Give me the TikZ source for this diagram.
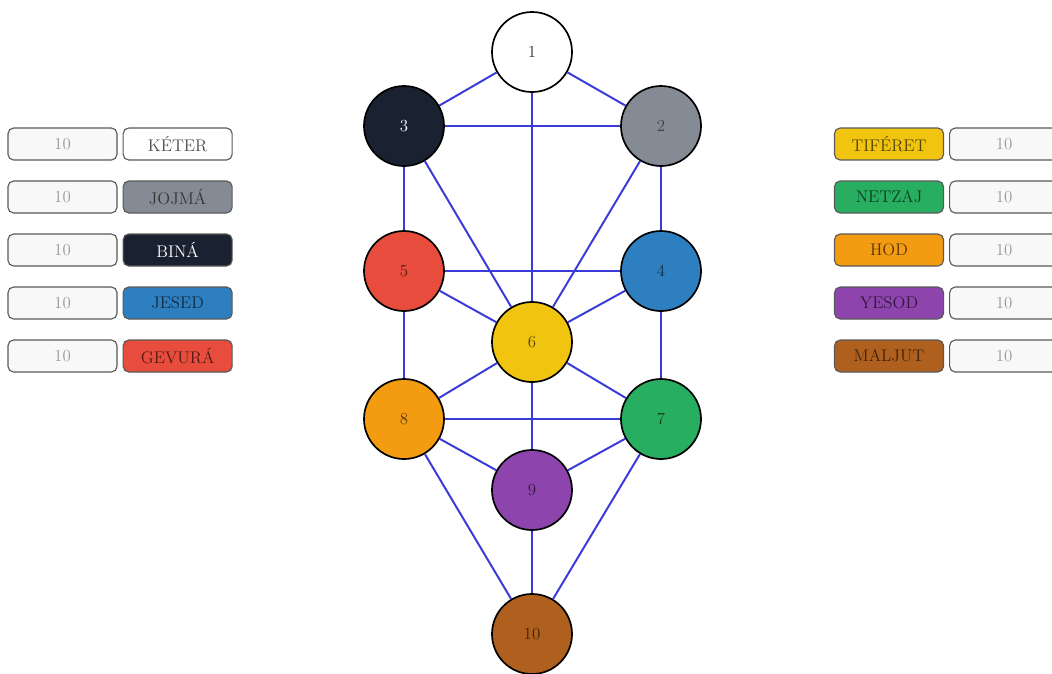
\documentclass[tikz,border=0pt]{standalone}
\usepackage{xcolor}
\usepackage{tikz}
\usetikzlibrary{positioning}

\definecolor{keter}{HTML}{FFFFFF}
\definecolor{jojma}{HTML}{858B95}
\definecolor{bina}{HTML}{1A2130}
\definecolor{jesed}{HTML}{2E7FC0}
\definecolor{gevura}{HTML}{E74C3C}
\definecolor{tiferet}{HTML}{F1C40F}
\definecolor{netzaj}{HTML}{27AE60}
\definecolor{hod}{HTML}{F39C12}
\definecolor{yesod}{HTML}{8E44AD}
\definecolor{maljut}{HTML}{B0601E}
\definecolor{path}{HTML}{3A3AD8}
\definecolor{valfill}{HTML}{F8F8F8}

\begin{document}
\begin{tikzpicture}[
    x=0.025cm, y=-0.025cm,
    sef/.style={draw=black, line width=1.2pt, circle, minimum size=2cm, inner sep=0pt, font=\large},
    val/.style={draw=black!65, line width=0.8pt, rounded corners=4pt, fill=valfill, minimum width=2.725cm, minimum height=0.8cm, inner sep=0pt, font=\large, text=black!40},
    lab/.style={draw=black!65, line width=0.8pt, rounded corners=4pt, minimum width=2.725cm, minimum height=0.8cm, inner sep=0pt, font=\large},
    conn/.style={draw=path, line width=1.4pt}]
  \useasboundingbox (0,0) rectangle (1052,673);
  % sefirot
  \node[sef, fill=keter, text=black!80] (s1) at (532,52) {1};
  \node[sef, fill=jojma, text=black!75] (s2) at (661,126) {2};
  \node[sef, fill=bina, text=white] (s3) at (404,126) {3};
  \node[sef, fill=jesed, text=jesed!35!black] (s4) at (661,271) {4};
  \node[sef, fill=gevura, text=gevura!35!black] (s5) at (404,271) {5};
  \node[sef, fill=tiferet, text=tiferet!35!black] (s6) at (532,342) {6};
  \node[sef, fill=netzaj, text=netzaj!35!black] (s7) at (661,419) {7};
  \node[sef, fill=hod, text=hod!35!black] (s8) at (404,419) {8};
  \node[sef, fill=yesod, text=yesod!35!black] (s9) at (532,490) {9};
  \node[sef, fill=maljut, text=maljut!35!black] (s10) at (532,634) {10};
  % paths
  \draw[conn] (s1) -- (s3);
  \draw[conn] (s1) -- (s2);
  \draw[conn] (s1) -- (s6);
  \draw[conn] (s3) -- (s2);
  \draw[conn] (s3) -- (s5);
  \draw[conn] (s3) -- (s6);
  \draw[conn] (s2) -- (s6);
  \draw[conn] (s2) -- (s4);
  \draw[conn] (s5) -- (s4);
  \draw[conn] (s5) -- (s6);
  \draw[conn] (s4) -- (s6);
  \draw[conn] (s5) -- (s8);
  \draw[conn] (s4) -- (s7);
  \draw[conn] (s6) -- (s8);
  \draw[conn] (s6) -- (s7);
  \draw[conn] (s6) -- (s9);
  \draw[conn] (s8) -- (s7);
  \draw[conn] (s8) -- (s9);
  \draw[conn] (s7) -- (s9);
  \draw[conn] (s8) -- (s10);
  \draw[conn] (s9) -- (s10);
  \draw[conn] (s7) -- (s10);
  % left legend
  \node[val] (v1) at (62.5,144) {10};
  \node[lab, fill=keter, text=black!70, right=0.125cm of v1] (l1) {KÉTER};
  \node[val] (v2) at (62.5,197) {10};
  \node[lab, fill=jojma, text=black!80, right=0.125cm of v2] (l2) {JOJMÁ};
  \node[val] (v3) at (62.5,250) {10};
  \node[lab, fill=bina, text=white, right=0.125cm of v3] (l3) {BINÁ};
  \node[val] (v4) at (62.5,303) {10};
  \node[lab, fill=jesed, text=jesed!35!black, right=0.125cm of v4] (l4) {JESED};
  \node[val] (v5) at (62.5,356) {10};
  \node[lab, fill=gevura, text=gevura!35!black, right=0.125cm of v5] (l5) {GEVURÁ};
  % right legend
  \node[lab, fill=tiferet, text=tiferet!35!black] (l6) at (889,144) {TIFÉRET};
  \node[val, right=0.125cm of l6] (v6) {10};
  \node[lab, fill=netzaj, text=netzaj!35!black] (l7) at (889,197) {NETZAJ};
  \node[val, right=0.125cm of l7] (v7) {10};
  \node[lab, fill=hod, text=hod!35!black] (l8) at (889,250) {HOD};
  \node[val, right=0.125cm of l8] (v8) {10};
  \node[lab, fill=yesod, text=yesod!35!black] (l9) at (889,303) {YESOD};
  \node[val, right=0.125cm of l9] (v9) {10};
  \node[lab, fill=maljut, text=maljut!35!black] (l10) at (889,356) {MALJUT};
  \node[val, right=0.125cm of l10] (v10) {10};
\end{tikzpicture}
\end{document}
